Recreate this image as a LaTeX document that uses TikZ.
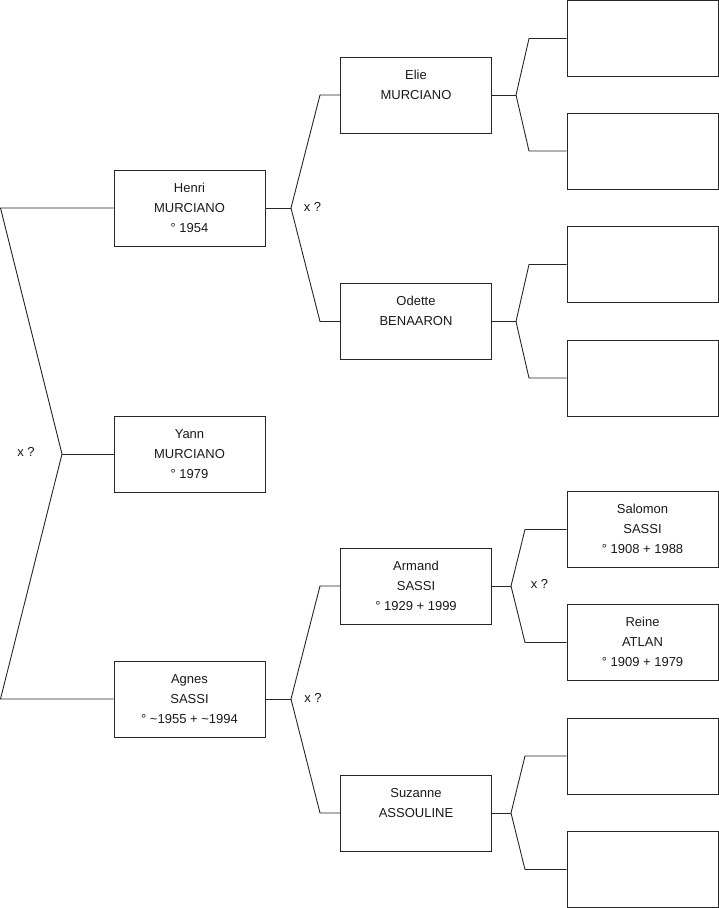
\documentclass[tikz,border=0pt]{standalone}
\usepackage{fontspec}
\setmainfont{Liberation Sans}
\begin{document}
\begin{tikzpicture}[x=1pt,y=-1pt,
  person/.style={draw=black!85, line width=0.9pt, rectangle, minimum width=151pt, minimum height=76pt,
    inner sep=0pt, align=center, font=\fontsize{13}{20}\selectfont, text=black!90},
  conn/.style={draw=black!85, line width=0.9pt},
  marriage/.style={font=\fontsize{13}{16}\selectfont, text=black!90, inner sep=0pt}]
\useasboundingbox (0,0) rectangle (719,908);
% generation 1
\node[person] (yann) at (189.5,454) {\strut Yann\\\strut MURCIANO\\\strut ° 1979};
% generation 2
\node[person] (henri) at (189.5,208) {\strut Henri\\\strut MURCIANO\\\strut ° 1954};
\node[person] (agnes) at (189.5,699) {\strut Agnes\\\strut SASSI\\\strut ° \textasciitilde 1955 + \textasciitilde 1994};
% generation 3
\node[person] (elie) at (416,95) {\strut Elie\\\strut MURCIANO\\\strut};
\node[person] (odette) at (416,321.5) {\strut Odette\\\strut BENAARON\\\strut};
\node[person] (armand) at (416,586) {\strut Armand\\\strut SASSI\\\strut ° 1929 + 1999};
\node[person] (suzanne) at (416,813) {\strut Suzanne\\\strut ASSOULINE\\\strut};
% generation 4
\node[person] (r1) at (642.5,38.5) {};
\node[person] (r2) at (642.5,151) {};
\node[person] (r3) at (642.5,264.5) {};
\node[person] (r4) at (642.5,378) {};
\node[person] (salomon) at (642.5,529.5) {\strut Salomon\\\strut SASSI\\\strut ° 1908 + 1988};
\node[person] (reine) at (642.5,642.5) {\strut Reine\\\strut ATLAN\\\strut ° 1909 + 1979};
\node[person] (r7) at (642.5,756) {};
\node[person] (r8) at (642.5,869.5) {};
% junction coordinates
\coordinate (jY) at (62,454);
\coordinate (jYt) at (0.5,208);
\coordinate (jYb) at (0.5,699);
\coordinate (jH) at (291,208);
\coordinate (jHt) at (320,95);
\coordinate (jHb) at (320,321.5);
\coordinate (jA) at (291,699);
\coordinate (jAt) at (320,586);
\coordinate (jAb) at (320,813);
\coordinate (jE) at (516,95);
\coordinate (jEt) at (529,38.5);
\coordinate (jEb) at (529,151);
\coordinate (jO) at (516,321.5);
\coordinate (jOt) at (529,264.5);
\coordinate (jOb) at (529,378);
\coordinate (jR) at (511,586);
\coordinate (jRt) at (525,529.5);
\coordinate (jRb) at (525,642.5);
\coordinate (jS) at (511,813);
\coordinate (jSt) at (525,756);
\coordinate (jSb) at (525,869.5);
% connectors
\draw[conn] (yann.west) -- (jY);
\draw[conn] (henri.west) -- (jYt) -- (jY) -- (jYb) -- (agnes.west);
\draw[conn] (henri.east) -- (jH);
\draw[conn] (elie.west) -- (jHt) -- (jH) -- (jHb) -- (odette.west);
\draw[conn] (agnes.east) -- (jA);
\draw[conn] (armand.west) -- (jAt) -- (jA) -- (jAb) -- (suzanne.west);
\draw[conn] (elie.east) -- (jE);
\draw[conn] (r1.west) -- (jEt) -- (jE) -- (jEb) -- (r2.west);
\draw[conn] (odette.east) -- (jO);
\draw[conn] (r3.west) -- (jOt) -- (jO) -- (jOb) -- (r4.west);
\draw[conn] (armand.east) -- (jR);
\draw[conn] (salomon.west) -- (jRt) -- (jR) -- (jRb) -- (reine.west);
\draw[conn] (suzanne.east) -- (jS);
\draw[conn] (r7.west) -- (jSt) -- (jS) -- (jSb) -- (r8.west);
% marriage marks
\node[marriage] (mY) at (26,452) {x ?};
\node[marriage] (mH) at (312.5,207) {x ?};
\node[marriage] (mA) at (313,698) {x ?};
\node[marriage] (mR) at (539.5,584) {x ?};
\end{tikzpicture}
\end{document}
